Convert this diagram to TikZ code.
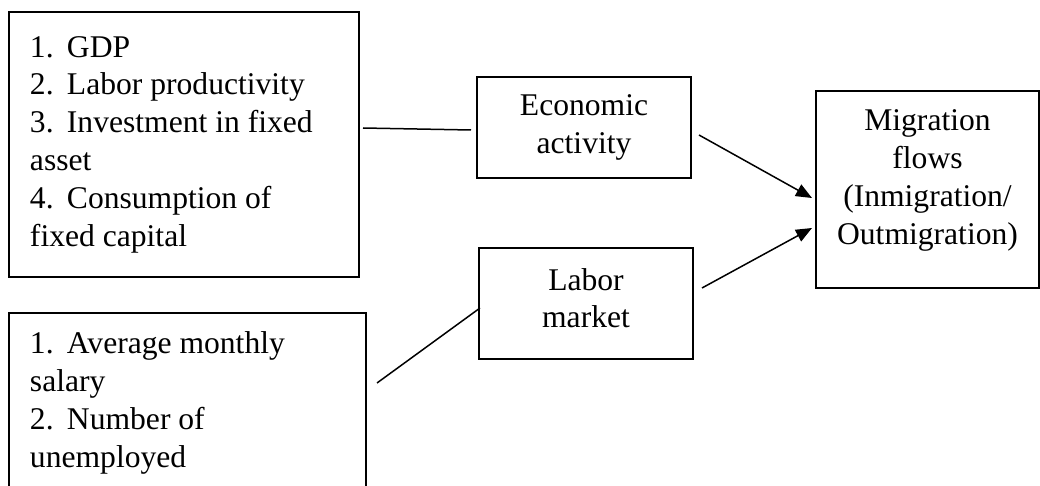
\documentclass[tikz,border=0pt]{standalone}
\usepackage{fontspec}
\setmainfont{Liberation Serif}
\usetikzlibrary{positioning, arrows.meta}
\tikzset{recuadro/.style={draw, line width=1pt, rectangle, inner ysep=0pt, font=\fontsize{15.8}{18.9}\selectfont}}
\tikzset{lista/.style={recuadro, align=flush left, inner xsep=10.5pt}}
\tikzset{centro/.style={recuadro, align=center, inner xsep=0pt}}
\tikzset{enlace/.style={line width=0.75pt}}
\tikzset{flecha/.style={enlace, -{Triangle[length=8pt,width=6.5pt]}}}
\newcommand{\num}[1]{\makebox[18.5pt][l]{#1}}

\begin{document}
\begin{tikzpicture}[
                x = 0.5pt, y = -0.5pt
            ]
                \useasboundingbox (0,0) rectangle (1040,486);

                \node[lista, text width=154pt, minimum height=132.5pt] (econfact) at (184,144.5)
                    {\num{1.}GDP\\ \num{2.}Labor productivity\\ \num{3.}Investment in fixed\\ asset\\ \num{4.}Consumption of\\ fixed capital};
                \node[lista, text width=157.5pt, minimum height=90pt] (laborfact) at (187.5,403)
                    {\num{1.}Average monthly\\ salary\\ \num{2.}Number of\\ unemployed};

                \node[centro, minimum width=107pt, minimum height=50.5pt] (econ) at (584,127.5) {Economic\\ activity};
                \node[centro, minimum width=107pt, minimum height=55.5pt, text depth=5.5pt] (labor) at (586,303.5) {Labor\\ market};
                \node[centro, minimum width=111.5pt, minimum height=98.5pt, text depth=12.3pt] (migr) at (927.5,189.5)
                    {Migration\\ flows\\ (Inmigration/\\ Outmigration)};

                \draw[enlace] ([xshift=1.5pt, yshift=8.25pt]econfact.east) to [] ([xshift=-2.5pt, yshift=-1.25pt]econ.west);
                \draw[enlace] ([xshift=5pt, yshift=10pt]laborfact.east) to [] ([xshift=1pt, yshift=-2.25pt]labor.west);
                \draw[flecha] ([xshift=3.5pt, yshift=-3.75pt]econ.east) to [] ([xshift=-1.5pt, yshift=-4.25pt]migr.west);
                \draw[flecha] ([xshift=4pt, yshift=7.75pt]labor.east) to [] ([xshift=-1.5pt, yshift=-19.25pt]migr.west);
            \end{tikzpicture}
\end{document}
